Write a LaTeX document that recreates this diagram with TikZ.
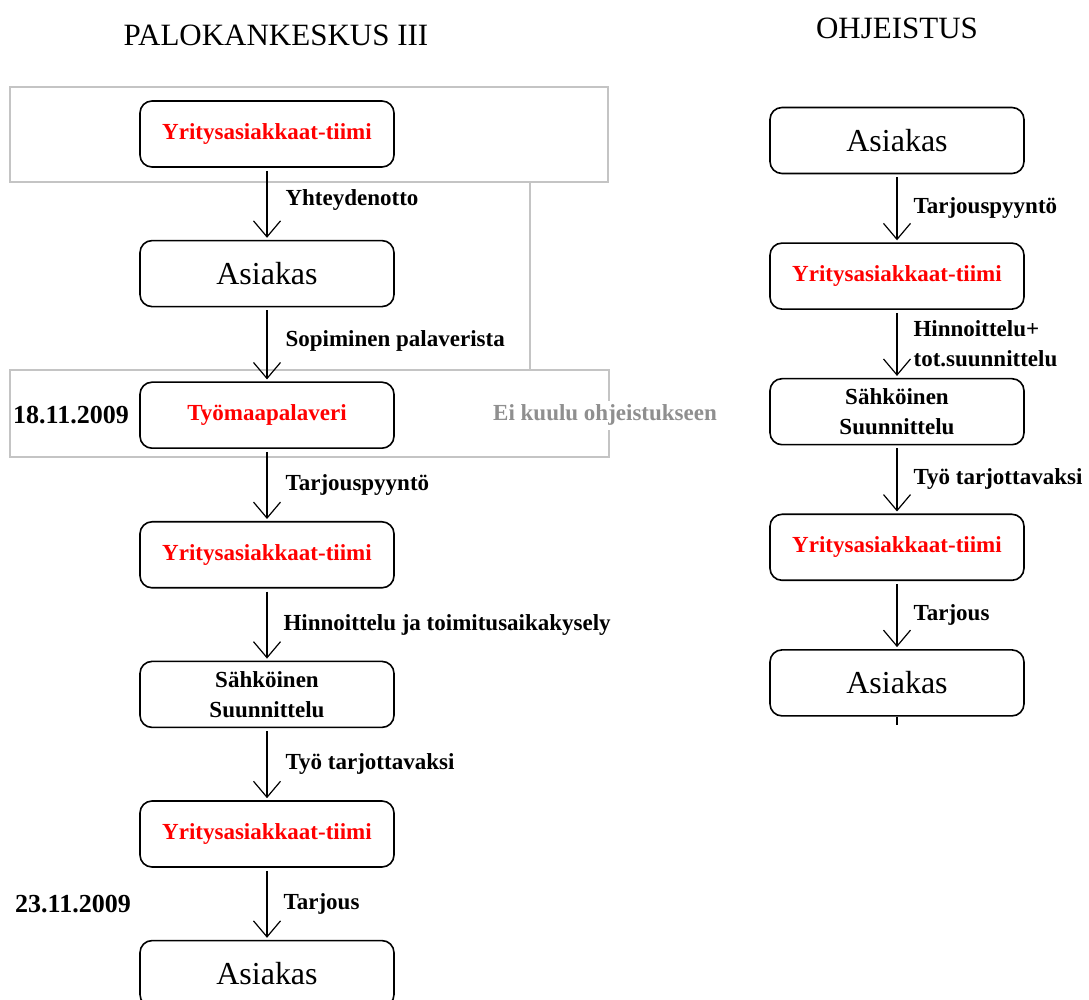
\documentclass[tikz,border=0pt]{standalone}
\usepackage{fontspec}
\setmainfont{Liberation Serif}
\usetikzlibrary{arrows.meta,positioning}
\definecolor{ink}{HTML}{000000}
\definecolor{team}{HTML}{FF0000}
\definecolor{frame}{HTML}{C4C4C4}
\definecolor{muted}{HTML}{8F8F8F}
\tikzset{
  >={Straight Barb[length=8pt,width=13.5pt]},
  box/.style={draw=ink,line width=0.8pt,rounded corners=6pt,fill=white,align=center,minimum width=127pt,minimum height=33pt,inner sep=2pt,font=\fontsize{11.5}{15}\selectfont\bfseries},
  teambox/.style={box,text=team},
  custbox/.style={box,font=\fontsize{16}{18}\selectfont},
  arrow/.style={->,line width=0.6pt,draw=ink,shorten <=1.5pt,shorten >=1pt},
  lbl/.style={font=\fontsize{11.5}{15}\selectfont\bfseries,align=left,inner sep=2pt},
  datelbl/.style={lbl,font=\fontsize{13}{15}\selectfont\bfseries},
  title/.style={font=\fontsize{15.5}{18}\selectfont},
  greyframe/.style={draw=frame,line width=0.8pt},
  note/.style={lbl,text=muted,fill=white},
}

\begin{document}
\begin{tikzpicture}[x=0.5pt,y=-0.5pt,node distance=36pt]
\useasboundingbox (0,0) rectangle (1089,1000);
% frames round the meeting part
\draw[greyframe] (10,87) rectangle (608,182);
\draw[greyframe] (10,370) rectangle (609,457);
\draw[greyframe] (530,182) -- (530,370);

\node[title] (head1) at (276,35) {PALOKANKESKUS III};
\node[title] (head2) at (897,28) {OHJEISTUS};

% left column
\node[teambox] (team1) at (267,134) {Yritysasiakkaat-tiimi};
\node[custbox,below=of team1] (cust1) {Asiakas};
\node[teambox,below=37pt of cust1] (meet) {Työmaapalaveri};
\node[teambox,below=of meet] (team2) {Yritysasiakkaat-tiimi};
\node[box,below=of team2] (plan) {Sähköinen\\Suunnittelu};
\node[teambox,below=of plan] (team3) {Yritysasiakkaat-tiimi};
\node[custbox,below=of team3] (cust2) {Asiakas};

\node[datelbl,left=3pt of meet] (date1) {18.11.2009};
\node[note,right=47pt of meet] (outside) {Ei kuulu ohjeistukseen};

\draw[arrow] (team1) -- node[lbl,right=7pt,pos=0.45] {Yhteydenotto} (cust1);
\draw[arrow] (cust1) -- node[lbl,right=7pt,pos=0.45] {Sopiminen palaverista} (meet);
\draw[arrow] (meet) -- node[lbl,right=7pt] {Tarjouspyyntö} (team2);
\draw[arrow] (team2) -- node[lbl,right=6pt] {Hinnoittelu ja toimitusaikakysely} (plan);
\draw[arrow] (plan) -- node[lbl,right=7pt] {Työ tarjottavaksi} (team3);
\draw[arrow] (team3) -- node[lbl,right=6pt] (offer) {Tarjous} (cust2);
\node[datelbl,anchor=east,xshift=-2pt] (date2) at (team3.west |- offer) {23.11.2009};

% right column
\begin{scope}[node distance=34pt]
\node[custbox] (rcust1) at (897,140.5) {Asiakas};
\node[teambox,below=of rcust1] (rteam1) {Yritysasiakkaat-tiimi};
\node[box,below=of rteam1] (rplan) {Sähköinen\\Suunnittelu};
\node[teambox,below=of rplan] (rteam2) {Yritysasiakkaat-tiimi};
\node[custbox,below=of rteam2] (rcust2) {Asiakas};
\end{scope}

\draw[arrow] (rcust1) -- node[lbl,right=6pt] {Tarjouspyyntö} (rteam1);
\draw[arrow] (rteam1) -- node[lbl,right=6pt] {Hinnoittelu+\\tot.suunnittelu} (rplan);
\draw[arrow] (rplan) -- node[lbl,right=6pt] {Työ tarjottavaksi} (rteam2);
\draw[arrow] (rteam2) -- node[lbl,right=6pt] {Tarjous} (rcust2);
\draw[line width=0.6pt] (rcust2.south) -- ++(0,8);
\end{tikzpicture}
\end{document}
